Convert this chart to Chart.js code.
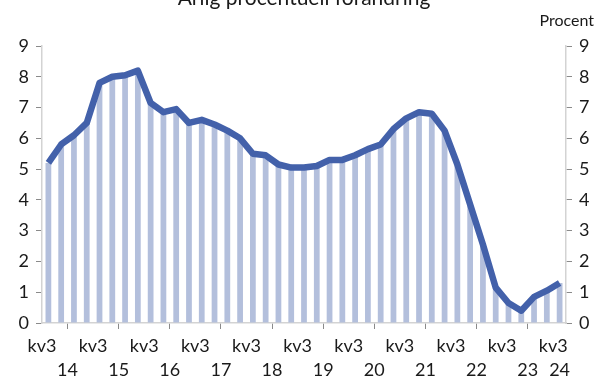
<!DOCTYPE html>
<html>
<head>
<meta charset="utf-8">
<script src="https://cdn.jsdelivr.net/npm/chart.js@4/dist/chart.umd.min.js"></script>
<style>
  html, body { margin: 0; padding: 0; background: #ffffff; }
  canvas { display: block; }
</style>
</head>
<body>
<canvas id="chart" width="596" height="381"></canvas>
<script>
// Quarterly observations, 2014 kv3 – 2024 kv3
const quarters = [
  '2014 kv3', '2014 kv4', '2015 kv1', '2015 kv2',
  '2015 kv3', '2015 kv4', '2016 kv1', '2016 kv2',
  '2016 kv3', '2016 kv4', '2017 kv1', '2017 kv2',
  '2017 kv3', '2017 kv4', '2018 kv1', '2018 kv2',
  '2018 kv3', '2018 kv4', '2019 kv1', '2019 kv2',
  '2019 kv3', '2019 kv4', '2020 kv1', '2020 kv2',
  '2020 kv3', '2020 kv4', '2021 kv1', '2021 kv2',
  '2021 kv3', '2021 kv4', '2022 kv1', '2022 kv2',
  '2022 kv3', '2022 kv4', '2023 kv1', '2023 kv2',
  '2023 kv3', '2023 kv4', '2024 kv1', '2024 kv2',
  '2024 kv3'
];

// Annual percentage change
const annualChange = [
  5.2, 5.8, 6.1, 6.5,
  7.8, 8.0, 8.05, 8.2,
  7.15, 6.85, 6.95, 6.5,
  6.6, 6.45, 6.25, 6.0,
  5.5, 5.45, 5.15, 5.05,
  5.05, 5.1, 5.3, 5.3,
  5.45, 5.65, 5.8, 6.3,
  6.65, 6.85, 6.8, 6.25,
  5.15, 3.85, 2.55, 1.15,
  0.65, 0.4, 0.85, 1.05,
  1.3
];

// Axis texts
const quarterTickLabel = 'kv3';
const yearLabels = ['14', '15', '16', '17', '18', '19', '20', '21', '22', '23', '24'];
const titleText = 'Årlig procentuell förändring';
const unitText = 'Procent';

const FONT = 'Lato, "Open Sans", sans-serif';
const TEXT = '#1a1a1a';
const AXIS_LINE = '#d3d3d3';
const TICK_MARK = '#8a8a8a';

const points = annualChange.map((v, i) => ({ x: i, y: v }));
const lastIndex = quarters.length - 1;

// kv3 ticks sit on the left edge of each year's third quarter
const kv3Positions = yearLabels.map((_, k) => k * 4 - 0.5);
// year labels are centred within each year span (last one in its single quarter)
const yearPositions = yearLabels.map((_, k) => Math.min(k * 4 + 1.5, lastIndex));

const textPlugin = {
  id: 'headerTexts',
  afterDraw(chart) {
    const ctx = chart.ctx;
    const area = chart.chartArea;
    ctx.save();
    ctx.fillStyle = TEXT;
    ctx.textBaseline = 'alphabetic';
    ctx.font = '21px ' + FONT;
    ctx.textAlign = 'center';
    ctx.fillText(titleText, (area.left + area.right) / 2, 5);
    ctx.font = '16px ' + FONT;
    ctx.textAlign = 'right';
    ctx.fillText(unitText, 594, 26);
    ctx.restore();
  }
};

const yAxisCommon = {
  type: 'linear',
  min: 0,
  max: 9,
  ticks: { stepSize: 1, color: TEXT, font: { family: FONT, size: 18 }, padding: 7 },
  grid: { drawOnChartArea: false, drawTicks: true, tickLength: 6, tickColor: TICK_MARK, tickWidth: 1 },
  border: { color: AXIS_LINE, width: 1.5 }
};

new Chart(document.getElementById('chart'), {
  type: 'bar',
  data: {
    datasets: [
      {
        type: 'line',
        label: 'Årlig procentuell förändring',
        data: points,
        borderColor: '#4361aa',
        borderWidth: 6.5,
        borderJoinStyle: 'round',
        borderCapStyle: 'butt',
        pointRadius: 0,
        tension: 0,
        fill: false,
        order: 0,
        xAxisID: 'x',
        yAxisID: 'y'
      },
      {
        type: 'bar',
        label: 'Staplar',
        data: points,
        backgroundColor: '#b3bfdc',
        borderWidth: 0,
        barPercentage: 0.45,
        categoryPercentage: 1,
        order: 1,
        xAxisID: 'x',
        yAxisID: 'y'
      }
    ]
  },
  options: {
    responsive: false,
    devicePixelRatio: 1,
    animation: false,
    layout: { padding: { top: 46, left: 0, right: 0, bottom: 0 } },
    plugins: {
      legend: { display: false },
      title: { display: false },
      tooltip: { enabled: false }
    },
    scales: {
      x: {
        type: 'linear',
        position: 'bottom',
        min: -0.5,
        max: lastIndex + 0.5,
        offset: false,
        afterBuildTicks(scale) {
          scale.ticks = kv3Positions.map(v => ({ value: v }));
        },
        afterFit(scale) { scale.height = 32; },
        ticks: {
          autoSkip: false,
          maxRotation: 0,
          minRotation: 0,
          color: TEXT,
          font: { family: FONT, size: 18 },
          padding: 6,
          callback: () => quarterTickLabel
        },
        grid: { drawOnChartArea: false, drawTicks: true, tickLength: 6, tickColor: TICK_MARK, tickWidth: 1 },
        border: { color: AXIS_LINE, width: 1.5 }
      },
      years: {
        type: 'linear',
        position: 'bottom',
        min: -0.5,
        max: lastIndex + 0.5,
        offset: false,
        afterBuildTicks(scale) {
          scale.ticks = yearPositions.map(v => ({ value: v }));
        },
        afterFit(scale) { scale.height = 26; },
        ticks: {
          autoSkip: false,
          maxRotation: 0,
          minRotation: 0,
          color: TEXT,
          font: { family: FONT, size: 18 },
          padding: 4,
          callback: (value, index) => yearLabels[index]
        },
        grid: { display: false, drawTicks: false },
        border: { display: false }
      },
      y: Object.assign({}, yAxisCommon, {
        position: 'left',
        afterFit(scale) { scale.width = 42; }
      }),
      y2: Object.assign({}, yAxisCommon, {
        position: 'right',
        afterFit(scale) { scale.width = 30; }
      })
    }
  },
  plugins: [textPlugin]
});
</script>
</body>
</html>
